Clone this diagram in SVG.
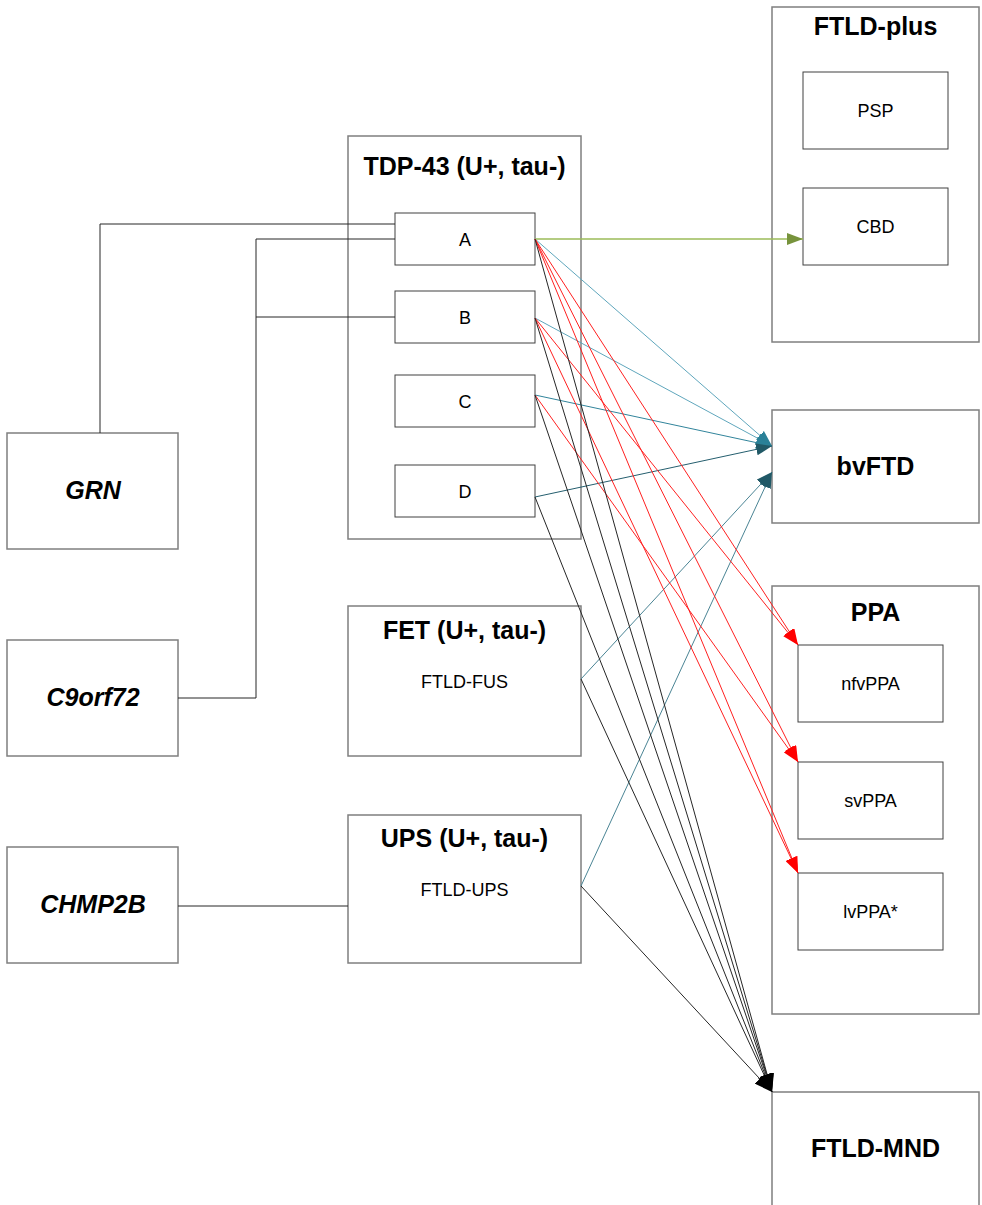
<svg xmlns="http://www.w3.org/2000/svg" width="982" height="1205" viewBox="0 0 982 1205">
<style>
.outer{fill:#fff;stroke:#7f7f7f;stroke-width:1.5}
.inner{fill:#fff;stroke:#404040;stroke-width:1}
.title{font-family:"Liberation Sans",Arial,sans-serif;font-weight:bold;font-size:25px;text-anchor:middle;fill:#000}
.gene{font-family:"Liberation Sans",Arial,sans-serif;font-weight:bold;font-style:italic;font-size:25px;text-anchor:middle;fill:#000}
.lbl{font-family:"Liberation Sans",Arial,sans-serif;font-size:18px;text-anchor:middle;fill:#000}
.blk{stroke:#262626;stroke-width:1;fill:none}
.red{stroke:#ff2020;stroke-width:1;fill:none}
.grn{stroke:#9bbb59;stroke-width:1.5;fill:none}
.tl1{stroke:#5fa6bc;stroke-width:1;fill:none}
.tl2{stroke:#31849b;stroke-width:1;fill:none}
.tl3{stroke:#245e6e;stroke-width:1;fill:none}
.tl4{stroke:#4a8494;stroke-width:1;fill:none}
</style>
<defs>
<marker id="mGreen" markerUnits="userSpaceOnUse" markerWidth="16" markerHeight="12" refX="16" refY="6" orient="auto"><path d="M0,0 L16,6 L0,12 z" fill="#77933c"/></marker>
<marker id="mRed" markerUnits="userSpaceOnUse" markerWidth="16" markerHeight="12" refX="16" refY="6" orient="auto"><path d="M0,0 L16,6 L0,12 z" fill="#ff0000"/></marker>
<marker id="mTeal" markerUnits="userSpaceOnUse" markerWidth="16" markerHeight="12" refX="16" refY="6" orient="auto"><path d="M0,0 L16,6 L0,12 z" fill="#2a8198"/></marker>
<marker id="mTealD" markerUnits="userSpaceOnUse" markerWidth="16" markerHeight="12" refX="16" refY="6" orient="auto"><path d="M0,0 L16,6 L0,12 z" fill="#215967"/></marker>
<marker id="mBlack" markerUnits="userSpaceOnUse" markerWidth="18" markerHeight="14" refX="18" refY="7" orient="auto"><path d="M0,0 L18,7 L0,14 z" fill="#000"/></marker>
</defs>

<g id="ftld-plus"><rect class="outer" x="772" y="7" width="207" height="335"/><text class="title" x="875.5" y="35">FTLD-plus</text></g>
<g id="psp"><rect class="inner" x="803" y="72" width="145" height="77"/><text class="lbl" x="875.5" y="117">PSP</text></g>
<g id="cbd"><rect class="inner" x="803" y="188" width="145" height="77"/><text class="lbl" x="875.5" y="233">CBD</text></g>

<g id="tdp43"><rect class="outer" x="348" y="136" width="233" height="403"/><text class="title" x="464.5" y="175">TDP-43 (U+, tau-)</text></g>
<g id="a"><rect class="inner" x="395" y="213" width="140" height="52"/><text class="lbl" x="465" y="246">A</text></g>
<g id="b"><rect class="inner" x="395" y="291" width="140" height="52"/><text class="lbl" x="465" y="324">B</text></g>
<g id="c"><rect class="inner" x="395" y="375" width="140" height="52"/><text class="lbl" x="465" y="408">C</text></g>
<g id="d"><rect class="inner" x="395" y="465" width="140" height="52"/><text class="lbl" x="465" y="498">D</text></g>

<g id="grn"><rect class="outer" x="7" y="433" width="171" height="116"/><text class="gene" x="93" y="499">GRN</text></g>
<g id="c9orf72"><rect class="outer" x="7" y="640" width="171" height="116"/><text class="gene" x="93" y="706">C9orf72</text></g>
<g id="chmp2b"><rect class="outer" x="7" y="847" width="171" height="116"/><text class="gene" x="93" y="913">CHMP2B</text></g>

<g id="fet"><rect class="outer" x="348" y="606" width="233" height="150"/><text class="title" x="464.5" y="639">FET (U+, tau-)</text><text class="lbl" x="464.5" y="688">FTLD-FUS</text></g>
<g id="ups"><rect class="outer" x="348" y="815" width="233" height="148"/><text class="title" x="464.5" y="847">UPS (U+, tau-)</text><text class="lbl" x="464.5" y="896">FTLD-UPS</text></g>

<g id="bvftd"><rect class="outer" x="772" y="410" width="207" height="113"/><text class="title" x="875.5" y="475">bvFTD</text></g>
<g id="ppa"><rect class="outer" x="772" y="586" width="207" height="428"/><text class="title" x="875.5" y="621">PPA</text></g>
<g id="nfvppa"><rect class="inner" x="798" y="645" width="145" height="77"/><text class="lbl" x="870.5" y="690">nfvPPA</text></g>
<g id="svppa"><rect class="inner" x="798" y="762" width="145" height="77"/><text class="lbl" x="870.5" y="807">svPPA</text></g>
<g id="lvppa"><rect class="inner" x="798" y="873" width="145" height="77"/><text class="lbl" x="870.5" y="918">lvPPA*</text></g>
<g id="ftld-mnd"><rect class="outer" x="772" y="1092" width="207" height="130"/><text class="title" x="875.5" y="1157">FTLD-MND</text></g>

<g id="connectors">
<polyline class="blk" points="100,433 100,224 395,224"/>
<polyline class="blk" points="178,698 256,698 256,239 395,239"/>
<line class="blk" x1="256" y1="317" x2="395" y2="317"/>
<line class="blk" x1="178" y1="906" x2="348" y2="906"/>

<line class="grn" x1="535" y1="239" x2="803" y2="239" marker-end="url(#mGreen)"/>

<line class="tl1" x1="535" y1="239" x2="772" y2="446" marker-end="url(#mTeal)"/>
<line class="tl1" x1="535" y1="318" x2="772" y2="446" marker-end="url(#mTeal)"/>
<line class="tl2" x1="535" y1="395" x2="772" y2="446" marker-end="url(#mTeal)"/>
<line class="tl3" x1="535" y1="497" x2="772" y2="446" marker-end="url(#mTealD)"/>
<line class="tl4" x1="581" y1="679" x2="772" y2="472" marker-end="url(#mTealD)"/>
<line class="tl4" x1="581" y1="886" x2="772" y2="472" marker-end="url(#mTealD)"/>

<line class="red" x1="535" y1="239" x2="798" y2="645" marker-end="url(#mRed)"/>
<line class="red" x1="535" y1="239" x2="798" y2="762" marker-end="url(#mRed)"/>
<line class="red" x1="535" y1="239" x2="798" y2="873" marker-end="url(#mRed)"/>
<line class="red" x1="535" y1="318" x2="798" y2="645" marker-end="url(#mRed)"/>
<line class="red" x1="535" y1="318" x2="798" y2="873" marker-end="url(#mRed)"/>
<line class="red" x1="535" y1="395" x2="798" y2="762" marker-end="url(#mRed)"/>

<line class="blk" x1="535" y1="239" x2="772" y2="1092" marker-end="url(#mBlack)"/>
<line class="blk" x1="535" y1="318" x2="772" y2="1092" marker-end="url(#mBlack)"/>
<line class="blk" x1="535" y1="395" x2="772" y2="1092" marker-end="url(#mBlack)"/>
<line class="blk" x1="535" y1="497" x2="772" y2="1092" marker-end="url(#mBlack)"/>
<line class="blk" x1="581" y1="679" x2="772" y2="1092" marker-end="url(#mBlack)"/>
<line class="blk" x1="581" y1="886" x2="772" y2="1092" marker-end="url(#mBlack)"/>
</g>
</svg>
